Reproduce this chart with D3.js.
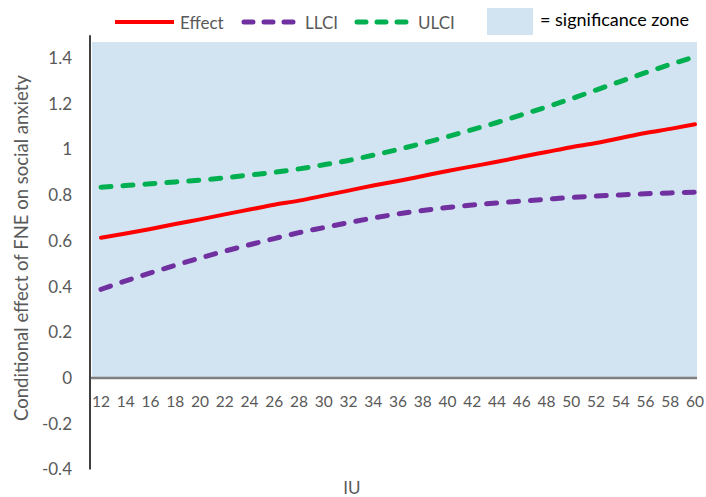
<!DOCTYPE html>
<html>
<head>
<meta charset="utf-8">
<script src="https://cdn.jsdelivr.net/npm/d3@7"></script>
<style>
  body { margin: 0; background: #fff; }
  text { font-family: Lato, "Open Sans", sans-serif; }
</style>
</head>
<body>
<script>
// IU values on the x axis
var iu = [12, 14, 16, 18, 20, 22, 24, 26, 28, 30, 32, 34, 36, 38, 40, 42, 44, 46, 48, 50, 52, 54, 56, 58, 60]

// conditional effect and its confidence bounds
var effect = [0.614, 0.632, 0.652, 0.674, 0.694, 0.716, 0.737, 0.758, 0.776, 0.798, 0.820, 0.842, 0.862,
  0.884, 0.906, 0.926, 0.946, 0.968, 0.989, 1.010, 1.028, 1.050, 1.072, 1.090, 1.110]
var llci = [0.388, 0.425, 0.460, 0.493, 0.525, 0.555, 0.583, 0.610, 0.636, 0.658, 0.680, 0.700, 0.718,
  0.733, 0.746, 0.757, 0.766, 0.774, 0.782, 0.790, 0.796, 0.801, 0.806, 0.810, 0.813]
var ulci = [0.835, 0.842, 0.850, 0.858, 0.866, 0.876, 0.888, 0.900, 0.915, 0.933, 0.952, 0.975, 1.000,
  1.027, 1.056, 1.087, 1.118, 1.152, 1.186, 1.222, 1.260, 1.298, 1.336, 1.372, 1.406]

// shaded significance zone (bottom, top)
var sigZone = [0, 1.47]

var yTicks = [-0.4, -0.2, 0, 0.2, 0.4, 0.6, 0.8, 1, 1.2, 1.4]

var width = 706
var height = 497

var svg = d3.select('body').append('svg')
  .attr('width', width)
  .attr('height', height)

var x = d3.scalePoint().domain(iu).range([101, 695])
var y = d3.scaleLinear().domain([-0.4, 1.5]).range([469.4, 35.2])

var plotLeft = 91
var plotRight = 697

// significance zone
svg.append('rect')
  .attr('x', plotLeft + 1)
  .attr('width', plotRight - plotLeft - 1)
  .attr('y', y(sigZone[1]))
  .attr('height', y(sigZone[0]) - y(sigZone[1]))
  .style('fill', '#d2e3f1')

// y axis labels
svg.append('g')
  .selectAll('text')
  .data(yTicks)
  .enter().append('text')
  .attr('x', 72)
  .attr('y', function (d) { return y(d) })
  .attr('dy', '0.35em')
  .attr('text-anchor', 'end')
  .style('font-size', '17px')
  .style('fill', '#595959')
  .text(function (d) { return d3.format('')(d).replace('−', '-') })

// vertical axis line
svg.append('line')
  .attr('x1', 90).attr('x2', 90)
  .attr('y1', y(1.5)).attr('y2', y(-0.4))
  .style('stroke', '#000')
  .style('stroke-width', 1.5)

// zero line
svg.append('line')
  .attr('x1', plotLeft).attr('x2', plotRight)
  .attr('y1', y(0)).attr('y2', y(0))
  .style('stroke', '#808080')
  .style('stroke-width', 2.5)

// x labels
svg.append('g')
  .selectAll('text')
  .data(iu)
  .enter().append('text')
  .attr('x', function (d) { return x(d) })
  .attr('y', 402)
  .attr('dy', '0.35em')
  .attr('text-anchor', 'middle')
  .style('font-size', '15.5px')
  .style('fill', '#595959')
  .text(function (d) { return d })

// axis titles
svg.append('text')
  .attr('x', 352)
  .attr('y', 488)
  .attr('dy', '0.35em')
  .attr('text-anchor', 'middle')
  .style('font-size', '17px')
  .style('fill', '#595959')
  .text('IU')

svg.append('text')
  .attr('transform', 'translate(22,248) rotate(-90)')
  .attr('dy', '0.35em')
  .attr('text-anchor', 'middle')
  .style('font-size', '18.5px')
  .style('fill', '#595959')
  .text('Conditional effect of FNE on social anxiety')

// lines
var line = d3.line()
  .x(function (d, i) { return x(iu[i]) })
  .y(function (d) { return y(d) })
  .curve(d3.curveMonotoneX)

var series = [
  { name: 'Effect', values: effect, color: '#ff0000', dash: null, w: 4 },
  { name: 'LLCI', values: llci, color: '#7030a0', dash: '10,12', w: 5 },
  { name: 'ULCI', values: ulci, color: '#00b050', dash: '10,12', w: 5 }
]

svg.selectAll('path.series')
  .data(series)
  .enter().append('path')
  .attr('class', 'series')
  .attr('d', function (d) { return line(d.values) })
  .style('fill', 'none')
  .style('stroke', function (d) { return d.color })
  .style('stroke-width', function (d) { return d.w })
  .style('stroke-linecap', 'round')
  .style('stroke-dasharray', function (d) { return d.dash })

// legend
var legendPos = [
  { x1: 115, x2: 174, tx: 180 },
  { x1: 244, x2: 300, tx: 305 },
  { x1: 357, x2: 413, tx: 418 }
]
var legend = svg.selectAll('g.legend')
  .data(series)
  .enter().append('g')
  .attr('class', 'legend')

legend.append('line')
  .attr('x1', function (d, i) { return legendPos[i].x1 })
  .attr('x2', function (d, i) { return legendPos[i].x2 })
  .attr('y1', 22).attr('y2', 22)
  .style('stroke', function (d) { return d.color })
  .style('stroke-width', function (d) { return d.w })
  .style('stroke-linecap', function (d) { return d.dash ? 'round' : 'butt' })
  .style('stroke-dasharray', function (d) { return d.dash ? '9,11' : null })

legend.append('text')
  .attr('x', function (d, i) { return legendPos[i].tx })
  .attr('y', 23)
  .attr('dy', '0.35em')
  .style('font-size', '17px')
  .style('fill', '#595959')
  .text(function (d) { return d.name })

svg.append('rect')
  .attr('x', 487).attr('y', 8)
  .attr('width', 46).attr('height', 27)
  .style('fill', '#d2e3f1')

svg.append('text')
  .attr('x', 540)
  .attr('y', 20)
  .attr('dy', '0.35em')
  .style('font-size', '18px')
  .style('fill', '#000')
  .text('= significance zone')
</script>
</body>
</html>
